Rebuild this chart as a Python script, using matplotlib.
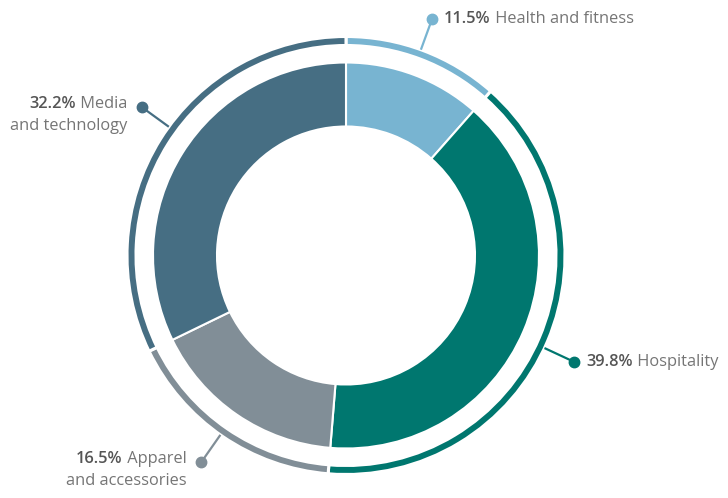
import numpy as np
import matplotlib.pyplot as plt

sectors = ['Health and fitness', 'Hospitality', 'Apparel\nand accessories', 'Media\nand technology']
shares = [11.5, 39.8, 16.5, 32.2]
colors = ['#78b4d1', '#00776f', '#818e97', '#466e83']
# angle of each leader line (degrees, counter-clockwise from east)
label_angles = [70, -25, -125, 144]

plt.rcParams['font.family'] = ['Open Sans', 'DejaVu Sans']

fig = plt.figure(figsize=(7.28, 4.98), dpi=100)
ax = fig.add_axes([0, 0, 1, 1])

cx, cy = 346, 242.5
# inner donut
ax.pie(shares, radius=193, center=(cx, cy), startangle=90, counterclock=False,
       colors=colors, wedgeprops=dict(width=64, edgecolor='white', linewidth=1.5))
# thin outer ring
ax.pie(shares, radius=219, center=(cx, cy), startangle=90, counterclock=False,
       colors=colors, wedgeprops=dict(width=9, edgecolor='white', linewidth=2.2))

ax.set_xlim(0, 728)
ax.set_ylim(0, 498)
ax.set_aspect('equal')
ax.axis('off')

fs = 11.8
fig.canvas.draw()
r = fig.canvas.get_renderer()
for name, val, col, ang in zip(sectors, shares, colors, label_angles):
    a = np.deg2rad(ang)
    x0, y0 = cx + 219 * np.cos(a), cy + 219 * np.sin(a)
    x1, y1 = cx + 252 * np.cos(a), cy + 252 * np.sin(a)
    ax.plot([x0, x1], [y0, y1], color=col, lw=1.6, solid_capstyle='butt')
    ax.plot(x1, y1, 'o', color=col, ms=7.5)
    pct = f'{val}%'
    lines = name.split('\n')
    if np.cos(a) > 0:
        tx = x1 + 12
        b = ax.text(tx, y1, pct, fontsize=fs, fontweight='semibold', color='#555555',
                    ha='left', va='center')
        w = b.get_window_extent(r).width
        ax.text(tx + w, y1, ' ' + lines[0], fontsize=fs, color='#757575',
                ha='left', va='center')
    else:
        tx = x1 - 15
        ty = y1 + 3
        t = ax.text(tx, ty, ' ' + lines[0], fontsize=fs, color='#757575',
                    ha='right', va='center')
        w = t.get_window_extent(r).width
        ax.text(tx - w, ty, pct, fontsize=fs, fontweight='semibold', color='#555555',
                ha='right', va='center')
        for i, extra in enumerate(lines[1:]):
            ax.text(tx, ty - 22 * (i + 1), extra, fontsize=fs, color='#757575',
                    ha='right', va='center')

fig.savefig('out.png', dpi=100)
